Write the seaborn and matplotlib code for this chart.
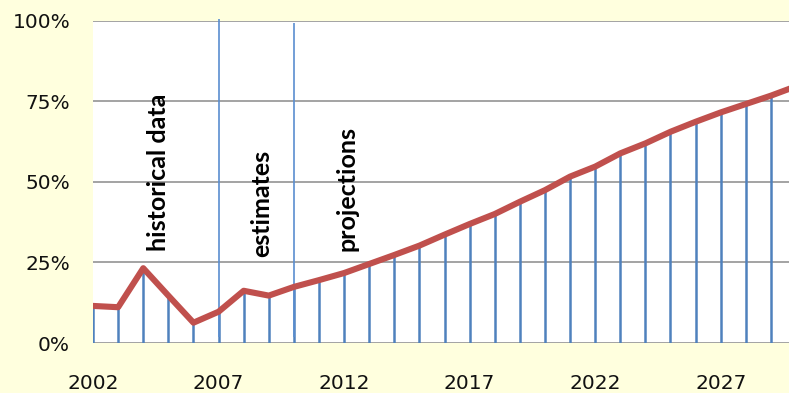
import matplotlib
matplotlib.use("Agg")
import matplotlib.pyplot as plt
import seaborn as sns
import pandas as pd
from matplotlib.ticker import FuncFormatter

# Share of the series by year: historical, estimated and projected values
years = list(range(2002, 2031))
share = [11.5, 11.1, 23.2, 14.7, 6.3, 9.7, 16.2, 14.7, 17.4, 19.5,
         21.7, 24.5, 27.3, 30.2, 33.6, 36.9, 40.0, 43.8, 47.4, 51.6,
         54.7, 58.8, 61.9, 65.5, 68.6, 71.5, 74.1, 76.7, 79.6]

# Period boundaries (historical | estimates | projections)
boundary_years = [2007, 2010]
boundary_tops = [100.5, 99.2]

period_labels = ["historical data", "estimates", "projections"]
period_label_x = [2004.6, 2008.7, 2012.1]
period_label_y = [28.5, 26.8, 28.5]

y_ticks = [0, 25, 50, 75, 100]
x_ticks = [2002, 2007, 2012, 2017, 2022, 2027]

df = pd.DataFrame({"year": years, "share": share})

sns.set_theme(style="white")
plt.rcParams["font.family"] = ["DejaVu Sans"]

fig = plt.figure(figsize=(7.89, 3.93), dpi=100, facecolor="#FFFFDE")
ax = fig.add_axes([0.1179, 0.1272, 0.8821, 0.8206])
ax.set_facecolor("white")

# Gridlines
for v in y_ticks:
    ax.axhline(v, color="#9C9C9C", lw=1.3, zorder=1)

# Drop lines from each point to the axis
ax.vlines(df["year"], 0, df["share"], color="#4F81BD", lw=1.8, zorder=2)

# Period boundary lines
ax.vlines(boundary_years, 2, boundary_tops, color="#5A8ED0", lw=1.2,
          zorder=2, clip_on=False)

sns.lineplot(data=df, x="year", y="share", ax=ax, color="#C0504D",
             lw=4.4, zorder=3, legend=False)

for lbl, xp, yp in zip(period_labels, period_label_x, period_label_y):
    ax.text(xp, yp, lbl, rotation=90, ha="center", va="bottom",
            fontsize=18, fontweight="bold", family=["Lato", "DejaVu Sans"],
            color="black", zorder=4)

ax.set_xlim(2002, 2029.72)
ax.set_ylim(0, 100)
ax.set_yticks(y_ticks)
ax.yaxis.set_major_formatter(FuncFormatter(lambda v, p: f"{int(v)}%"))
ax.set_xticks(x_ticks)
ax.tick_params(axis="both", labelsize=14.5, length=0, colors="#111111")
ax.tick_params(axis="y", pad=16.5)
ax.tick_params(axis="x", pad=22)
ax.set_xlabel("")
ax.set_ylabel("")
for s in ax.spines.values():
    s.set_visible(False)

fig.savefig("out.png", dpi=100, facecolor=fig.get_facecolor())
